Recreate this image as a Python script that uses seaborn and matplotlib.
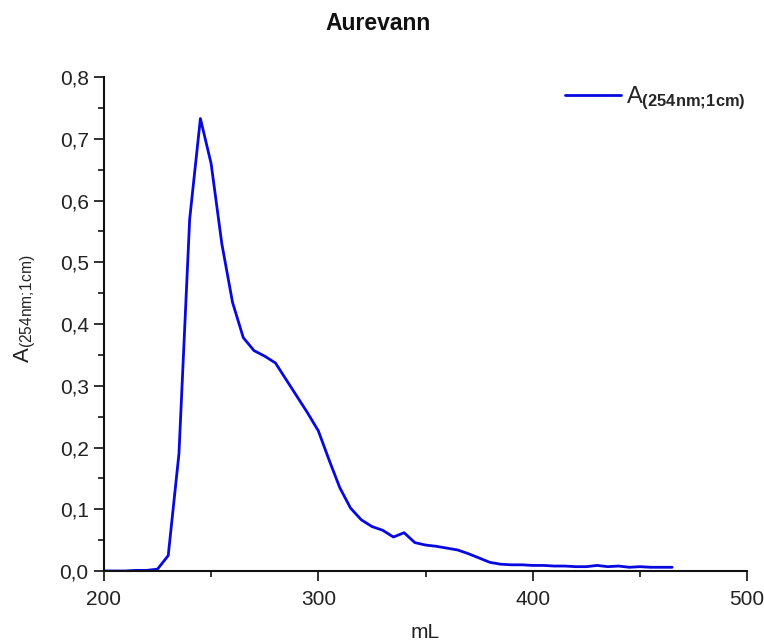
import matplotlib
matplotlib.use("Agg")
import matplotlib.pyplot as plt
import seaborn as sns
import pandas as pd
from matplotlib.ticker import MultipleLocator, FuncFormatter

volume_ml = [200, 205, 210, 215, 220, 225, 230, 235, 240, 245, 250, 255, 260, 265, 270,
             275, 280, 285, 290, 295, 300, 305, 310, 315, 320, 325, 330, 335, 340, 345,
             350, 355, 360, 365, 370, 375, 380, 385, 390, 395, 400, 405, 410, 415, 420,
             425, 430, 435, 440, 445, 450, 455, 460, 465]
absorbance = [0.000, 0.000, 0.000, 0.001, 0.001, 0.003, 0.025, 0.190, 0.570, 0.733, 0.660,
              0.530, 0.435, 0.378, 0.357, 0.348, 0.337, 0.310, 0.283, 0.256, 0.227, 0.180,
              0.135, 0.102, 0.083, 0.072, 0.066, 0.055, 0.062, 0.046, 0.042, 0.040, 0.037,
              0.034, 0.028, 0.021, 0.014, 0.011, 0.010, 0.010, 0.009, 0.009, 0.008, 0.008,
              0.007, 0.007, 0.009, 0.007, 0.008, 0.006, 0.007, 0.006, 0.006, 0.006]

title = "Aurevann"
x_label = "mL"
y_label = r"A$_{\mathrm{(254nm;\!1cm)}}$"
series_label = r"A$_{\mathbf{(254nm;\!1cm)}}$"

df = pd.DataFrame({"mL": volume_ml, "A": absorbance})

sns.set_style("ticks")
plt.rcParams["font.family"] = ["Liberation Sans", "DejaVu Sans"]
plt.rcParams["mathtext.fontset"] = "custom"
plt.rcParams["mathtext.rm"] = "Liberation Sans"
plt.rcParams["mathtext.bf"] = "Liberation Sans:bold"
plt.rcParams["mathtext.it"] = "Liberation Sans:italic"

fig = plt.figure(figsize=(7.64, 6.43), dpi=100)
ax = fig.add_axes([0.136, 0.112, 0.842, 0.768])

sns.lineplot(data=df, x="mL", y="A", ax=ax, color="#0808e0", linewidth=2.0,
             label=series_label)

ax.set_xlim(200, 500)
ax.set_ylim(0, 0.8)
ax.xaxis.set_major_locator(MultipleLocator(100))
ax.xaxis.set_minor_locator(MultipleLocator(50))
ax.yaxis.set_major_locator(MultipleLocator(0.1))
ax.yaxis.set_minor_locator(MultipleLocator(0.05))
ax.yaxis.set_major_formatter(FuncFormatter(lambda v, p: f"{v:.1f}".replace(".", ",")))
ax.xaxis.set_major_formatter(FuncFormatter(lambda v, p: f"{v:.0f}"))

ax.tick_params(which="major", direction="out", length=7, width=1.3, labelsize=15,
               colors="#222222")
ax.tick_params(which="minor", direction="out", length=4, width=1.3)
ax.tick_params(axis="x", which="major", pad=6.5)
ax.tick_params(axis="y", which="major", pad=4)
for s in ["left", "bottom"]:
    ax.spines[s].set_linewidth(1.5)
    ax.spines[s].set_color("#111111")
sns.despine(ax=ax)

ax.set_xlabel(x_label, fontsize=15, color="#222222")
ax.xaxis.set_label_coords(0.5, -0.143)
ax.xaxis.label.set_va("bottom")
ax.set_ylabel(y_label, fontsize=16, color="#222222")
ax.yaxis.set_label_coords(-0.103, 0.53)
fig.text(0.495, 1 - 24 / 643, title, fontsize=16.5, fontweight="bold",
         ha="center", va="center", color="#111111")

leg = ax.legend(loc="upper right", frameon=False, fontsize=17, handlelength=2.4,
                handletextpad=0.2, borderaxespad=0.0, borderpad=0.2,
                bbox_to_anchor=(1.005, 0.995))

fig.savefig("out.png", dpi=100)
